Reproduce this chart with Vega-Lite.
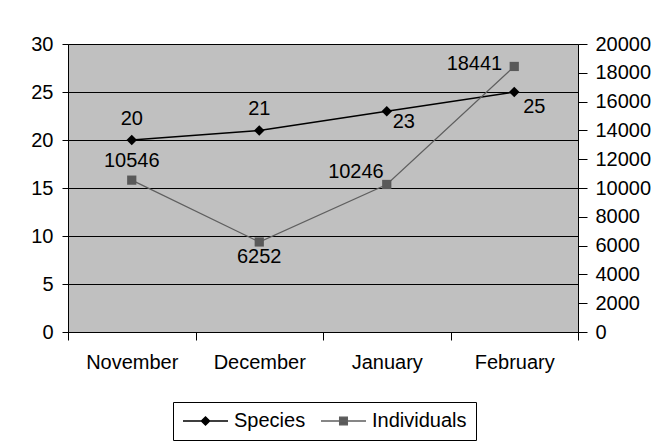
{
  "$schema": "https://vega.github.io/schema/vega-lite/v6.json",
  "width": 510,
  "height": 288,
  "autosize": {"type": "none"},
  "padding": {"left": 68, "top": 44, "right": 82, "bottom": 109},
  "background": "white",
  "config": {
    "font": "Liberation Sans",
    "view": {"fill": "#C0C0C0", "stroke": "#808080", "strokeWidth": 1},
    "axis": {
      "labelFont": "Liberation Sans",
      "labelFontSize": 20,
      "labelColor": "black",
      "tickColor": "black",
      "domainColor": "black",
      "title": null
    },
    "text": {"font": "Liberation Sans", "fontSize": 20, "color": "black"}
  },
  "data": {
    "values": [
      {"month": "November", "series": "Species", "value": 20},
      {"month": "December", "series": "Species", "value": 21},
      {"month": "January", "series": "Species", "value": 23},
      {"month": "February", "series": "Species", "value": 25},
      {"month": "November", "series": "Individuals", "value": 10546},
      {"month": "December", "series": "Individuals", "value": 6252},
      {"month": "January", "series": "Individuals", "value": 10246},
      {"month": "February", "series": "Individuals", "value": 18441}
    ]
  },
  "encoding": {
    "x": {
      "field": "month",
      "type": "nominal",
      "sort": ["November", "December", "January", "February"],
      "bandPosition": 0.5,
      "scale": {"type": "band", "paddingInner": 0, "paddingOuter": 0},
      "axis": {
        "title": null,
        "labelAngle": 0,
        "tickBand": "extent",
        "tickSize": 8,
        "labelPadding": 12,
        "grid": false,
        "domainColor": "black"
      }
    }
  },
  "layer": [
    {
      "transform": [{"filter": "datum.series === 'Species'"}],
      "encoding": {
        "y": {
          "field": "value",
          "type": "quantitative",
          "scale": {"domain": [0, 30], "nice": false, "zero": true},
          "axis": {
            "title": null,
            "orient": "left",
            "values": [0, 5, 10, 15, 20, 25, 30],
            "tickSize": 6,
            "labelPadding": 9,
            "grid": true,
            "gridColor": "black",
            "gridWidth": 1,
            "encode": {
              "grid": {"update": {"stroke": {"signal": "datum.value === 30 ? '#808080' : 'black'"}}}
            }
          }
        }
      },
      "layer": [
        {"mark": {"type": "line", "color": "black", "strokeWidth": 1.5}},
        {"mark": {"type": "point", "shape": "diamond", "filled": true, "color": "black", "size": 110, "opacity": 1}},
        {
          "transform": [{"filter": "datum.month === 'November' || datum.month === 'December'"}],
          "mark": {"type": "text", "align": "center", "baseline": "middle", "dy": -21},
          "encoding": {"text": {"field": "value", "type": "quantitative"}}
        },
        {
          "transform": [{"filter": "datum.month === 'January'"}],
          "mark": {"type": "text", "align": "left", "baseline": "middle", "dx": 6, "dy": 11},
          "encoding": {"text": {"field": "value", "type": "quantitative"}}
        },
        {
          "transform": [{"filter": "datum.month === 'February'"}],
          "mark": {"type": "text", "align": "left", "baseline": "middle", "dx": 9, "dy": 15},
          "encoding": {"text": {"field": "value", "type": "quantitative"}}
        }
      ]
    },
    {
      "transform": [{"filter": "datum.series === 'Individuals'"}],
      "encoding": {
        "y": {
          "field": "value",
          "type": "quantitative",
          "scale": {"domain": [0, 20000], "nice": false, "zero": true},
          "axis": {
            "title": null,
            "orient": "right",
            "values": [0, 2000, 4000, 6000, 8000, 10000, 12000, 14000, 16000, 18000, 20000],
            "format": "d",
            "tickSize": 9,
            "labelPadding": 8,
            "grid": false,
            "domain": true
          }
        }
      },
      "layer": [
        {"mark": {"type": "line", "color": "#5f5f5f", "strokeWidth": 1.2}},
        {"mark": {"type": "point", "shape": "square", "filled": true, "color": "#595959", "size": 85, "opacity": 1}},
        {
          "transform": [{"filter": "datum.month === 'November'"}],
          "mark": {"type": "text", "align": "center", "baseline": "middle", "dy": -19},
          "encoding": {"text": {"field": "value", "type": "quantitative", "format": "d"}}
        },
        {
          "transform": [{"filter": "datum.month === 'December'"}],
          "mark": {"type": "text", "align": "center", "baseline": "middle", "dy": 15},
          "encoding": {"text": {"field": "value", "type": "quantitative", "format": "d"}}
        },
        {
          "transform": [{"filter": "datum.month === 'January'"}],
          "mark": {"type": "text", "align": "right", "baseline": "middle", "dx": -3, "dy": -12},
          "encoding": {"text": {"field": "value", "type": "quantitative", "format": "d"}}
        },
        {
          "transform": [{"filter": "datum.month === 'February'"}],
          "mark": {"type": "text", "align": "right", "baseline": "middle", "dx": -12, "dy": -2},
          "encoding": {"text": {"field": "value", "type": "quantitative", "format": "d"}}
        }
      ]
    },
    {
      "mark": {"type": "point", "filled": true, "opacity": 0},
      "encoding": {
        "fill": {
          "field": "series",
          "type": "nominal",
          "scale": {"domain": ["Species", "Individuals"], "range": ["#000000", "#595959"]},
          "legend": null
        },
        "stroke": {
          "field": "series",
          "type": "nominal",
          "scale": {"domain": ["Species", "Individuals"], "range": ["#000000", "#5f5f5f"]},
          "legend": null
        },
        "shape": {
          "field": "series",
          "type": "nominal",
          "scale": {
            "domain": ["Species", "Individuals"],
            "range": [
              "M-1,0L4,0M1.5,-0.45L1.95,0L1.5,0.45L1.05,0Z",
              "M-1,0L4,0M1.08,-0.42L1.92,-0.42L1.92,0.42L1.08,0.42Z"
            ]
          },
          "legend": {
            "title": null,
            "orient": "none",
            "legendX": 105,
            "legendY": 358,
            "direction": "horizontal",
            "columns": 2,
            "padding": 9,
            "strokeColor": "black",
            "fillColor": "white",
            "cornerRadius": 0,
            "symbolSize": 324,
            "symbolOpacity": 1,
            "symbolStrokeWidth": 1.5,
            "labelOffset": 32,
            "columnPadding": 12,
            "labelFont": "Liberation Sans",
            "labelFontSize": 20,
            "labelColor": "black",
            "labelLimit": 300
          }
        }
      }
    }
  ],
  "resolve": {"scale": {"y": "independent"}}
}
